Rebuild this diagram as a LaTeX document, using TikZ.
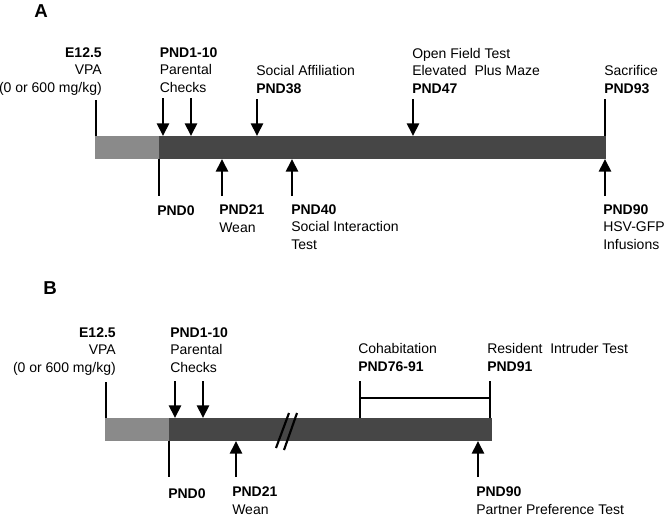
\documentclass[tikz,border=0pt]{standalone}
\usepackage{fontspec}
\setmainfont{Liberation Sans}
\usepackage{tikz}
\usetikzlibrary{arrows.meta}

\definecolor{lgray}{RGB}{138,138,138}
\definecolor{dgray}{RGB}{70,70,70}

\tikzset{
  lbl/.style={inner sep=0pt, font=\fontsize{10.5}{12.8}\selectfont},
  panel/.style={inner sep=0pt, font=\fontsize{14}{16}\selectfont\bfseries},
  tick/.style={line width=2pt},
  evarr/.style={line width=2pt, -{Triangle[length=9.5pt,width=9pt]}},
  brk/.style={line width=1.6pt}
}

\begin{document}
\begin{tikzpicture}[x=0.75pt,y=0.75pt,yscale=-1,xscale=1]
\useasboundingbox (0,0) rectangle (664,515);

%%%%%%%%%% Panel A
\node[panel] (labA) at (41,11) {A};

%Shape: Rectangle [id:barA]
\fill[lgray] (95,136) rectangle (159,159);
\fill[dgray] (159,136) rectangle (606,159);

%Points on the bar
\coordinate (aE) at (96,136);   \coordinate (aEt) at (96,100);
\coordinate (aP1) at (163,136); \coordinate (aP1t) at (163,98);
\coordinate (aP2) at (191,136); \coordinate (aP2t) at (191,98);
\coordinate (aS38) at (257,136); \coordinate (aS38t) at (257,99);
\coordinate (aO47) at (413,136); \coordinate (aO47t) at (413,99);
\coordinate (aS93) at (605,136); \coordinate (aS93t) at (605,99);
\coordinate (a0) at (159,159);  \coordinate (a0b) at (159,196);
\coordinate (a21) at (222,159); \coordinate (a21b) at (222,196);
\coordinate (a40) at (292,159); \coordinate (a40b) at (292,196);
\coordinate (a90) at (605,159); \coordinate (a90b) at (605,196);

%Straight Lines
\draw[tick] (aEt) -- (aE);
\draw[tick] (aS93t) -- (aS93);
\draw[tick] (a0) -- (a0b);
\draw[evarr] (aP1t) -- (aP1);
\draw[evarr] (aP2t) -- (aP2);
\draw[evarr] (aS38t) -- (aS38);
\draw[evarr] (aO47t) -- (aO47);
\draw[evarr] (a21b) -- (a21);
\draw[evarr] (a40b) -- (a40);
\draw[evarr] (a90b) -- (a90);

% Text Node
\node[lbl, anchor=base east, align=right] (aVPA) at (102,92) {\textbf{E12.5}\\VPA\\(0 or 600 mg/kg)};
% Text Node
\node[lbl, anchor=base west, align=left] (aPar) at (159.5,92) {\textbf{PND1-10}\\Parental\\Checks};
% Text Node
\node[lbl, anchor=base west, align=left] (aSoc) at (256,93) {Social Affiliation\\\textbf{PND38}};
% Text Node
\node[lbl, anchor=base west, align=left] (aOpen) at (412,93) {Open Field Test\\Elevated\ \ Plus Maze\\\textbf{PND47}};
% Text Node
\node[lbl, anchor=base west, align=left] (aSac) at (604,93) {Sacrifice\\\textbf{PND93}};
% Text Node
\node[lbl, anchor=base west, align=left] (aPND0) at (157,215) {\textbf{PND0}};
% Text Node
\node[lbl, anchor=base west, align=left] (aWean) at (219,232) {\textbf{PND21}\\Wean};
% Text Node
\node[lbl, anchor=base west, align=left] (aSit) at (291,249) {\textbf{PND40}\\Social Interaction\\Test};
% Text Node
\node[lbl, anchor=base west, align=left] (aHsv) at (603,249) {\textbf{PND90}\\HSV-GFP\\Infusions};

%%%%%%%%%% Panel B
\node[panel] (labB) at (50,288) {B};

%Shape: Rectangle [id:barB]
\fill[lgray] (105,418) rectangle (169,441);
\fill[dgray] (169,418) rectangle (492,441);

%Points on the bar
\coordinate (bE) at (106,418);   \coordinate (bEt) at (106,382);
\coordinate (bP1) at (175,418);  \coordinate (bP1t) at (175,381);
\coordinate (bP2) at (203,418);  \coordinate (bP2t) at (203,381);
\coordinate (bC1) at (360,418);  \coordinate (bC1t) at (360,381);
\coordinate (bC2) at (490,418);  \coordinate (bC2t) at (490,381);
\coordinate (bL) at (360,398);   \coordinate (bR) at (490,398);
\coordinate (b0) at (169,441);   \coordinate (b0b) at (169,477);
\coordinate (b21) at (236,441);  \coordinate (b21b) at (236,477);
\coordinate (b90) at (478,441);  \coordinate (b90b) at (478,477);

%Straight Lines
\draw[tick] (bEt) -- (bE);
\draw[tick] (b0) -- (b0b);
\draw[evarr] (bP1t) -- (bP1);
\draw[evarr] (bP2t) -- (bP2);
\draw[evarr] (b21b) -- (b21);
\draw[evarr] (b90b) -- (b90);
%Bracket
\draw[tick] (bC1t) -- (bC1);
\draw[tick] (bC2t) -- (bC2);
\draw[tick] (bL) -- (bR);
%Break marks
\draw[brk] (289,413) -- (276,448);
\draw[brk] (297,413) -- (284,450);

% Text Node
\node[lbl, anchor=base east, align=right] (bVPA) at (116,372) {\textbf{E12.5}\\VPA\\(0 or 600 mg/kg)};
% Text Node
\node[lbl, anchor=base west, align=left] (bPar) at (170,372) {\textbf{PND1-10}\\Parental\\Checks};
% Text Node
\node[lbl, anchor=base west, align=left] (bCoh) at (358,371) {Cohabitation\\\textbf{PND76-91}};
% Text Node
\node[lbl, anchor=base west, align=left] (bRes) at (487,371) {Resident\ \ Intruder Test\\\textbf{PND91}};
% Text Node
\node[lbl, anchor=base west, align=left] (bPND0) at (168,498) {\textbf{PND0}};
% Text Node
\node[lbl, anchor=base west, align=left] (bWean) at (232,514) {\textbf{PND21}\\Wean};
% Text Node
\node[lbl, anchor=base west, align=left] (bPart) at (476,514) {\textbf{PND90}\\Partner Preference Test};

\end{tikzpicture}
\end{document}
